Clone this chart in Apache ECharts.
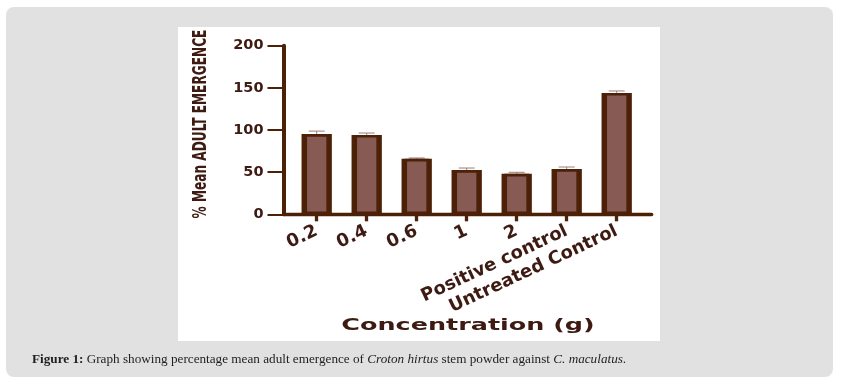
<!DOCTYPE html>
<html>
<head>
<meta charset="utf-8">
<script src="https://cdn.jsdelivr.net/npm/echarts@6/dist/echarts.min.js"></script>
<style>html,body{margin:0;padding:0;background:#fff;}#c{width:842px;height:386px;}</style>
</head>
<body>
<div id="c"></div>
<script>
// Data
const categories = ['0.2', '0.4', '0.6', '1', '2', 'Positive control', 'Untreated Control'];
const meanEmergence = [95.3, 94.2, 65.8, 52.6, 48.0, 53.8, 144.0];
const errorValues = [3.4, 2.2, 1.0, 2.3, 1.8, 2.3, 2.3];
const yTicks = { min: 0, max: 200, interval: 50 };
const yAxisTitle = '% Mean ADULT EMERGENCE';
const xAxisTitle = 'Concentration (g)';

const dark = '#4d2008';
const textDark = '#3d1a12';
const fill = '#875a54';

const chart = echarts.init(document.getElementById('c'), null, { renderer: 'canvas' });

const gridTop = 45.7, gridH = 168.6;

chart.setOption({
  backgroundColor: '#ffffff',
  animation: false,
  title: {
    left: 27, top: 348,
    text: '{b|Figure 1:} Graph showing percentage mean adult emergence of {i|Croton hirtus} stem powder against {i|C. maculatus}.',
    textStyle: {
      fontFamily: 'Liberation Serif', fontSize: 13.2, color: '#1e1e1e', fontWeight: 'normal',
      rich: {
        b: { fontFamily: 'Liberation Serif', fontSize: 13.2, fontWeight: 'bold', color: '#1e1e1e' },
        i: { fontFamily: 'Liberation Serif', fontSize: 13.2, fontStyle: 'italic', color: '#1e1e1e' }
      }
    }
  },
  graphic: [
    { type: 'rect', z: -20, shape: { x: 6, y: 7, width: 827, height: 370, r: 8 }, style: { fill: '#e1e1e1' } },
    { type: 'rect', z: -10, shape: { x: 178, y: 27, width: 482, height: 314 }, style: { fill: '#ffffff' } },
    { type: 'text', z: 50, x: 468, y: 326, scaleX: 1.59,
      style: { text: xAxisTitle, fontFamily: 'DejaVu Sans', fontWeight: 'bold', fontSize: 16,
               fill: textDark, align: 'center', verticalAlign: 'middle' } },
    { type: 'text', z: 50, x: 201, y: 124, rotation: Math.PI / 2, scaleY: 1.4,
      style: { text: yAxisTitle, fontFamily: 'DejaVu Sans Condensed', fontWeight: 'bold', fontSize: 13.5,
               fill: textDark, align: 'center', verticalAlign: 'middle' } }
  ],
  grid: [
    { left: 283.5, top: gridTop, width: 368.2, height: gridH },
    { left: 291.7, top: gridTop, width: 350, height: gridH }
  ],
  xAxis: [
    { gridIndex: 0, type: 'value', min: 0, max: 1,
      axisLine: { show: true, lineStyle: { color: dark, width: 3.3 } },
      axisTick: { show: false }, axisLabel: { show: false }, splitLine: { show: false } },
    { gridIndex: 1, type: 'category', data: categories,
      axisLine: { show: false },
      axisTick: { show: true, alignWithLabel: true, length: 7, lineStyle: { color: dark, width: 3.3 } },
      axisLabel: { interval: 0, rotate: 25, margin: 16, fontFamily: 'DejaVu Sans', fontWeight: 'bold',
                   fontSize: 18, color: textDark },
      splitLine: { show: false } },
    { gridIndex: 1, type: 'category', data: categories, show: false }
  ],
  yAxis: [
    { gridIndex: 0, type: 'value', min: yTicks.min, max: yTicks.max, interval: yTicks.interval,
      axisLine: { show: true, lineStyle: { color: dark, width: 4 } },
      axisTick: { show: true, length: 16, lineStyle: { color: dark, width: 2 } },
      axisLabel: { margin: 20, fontFamily: 'DejaVu Sans', fontWeight: 'bold', fontSize: 14.5, color: textDark },
      splitLine: { show: false } },
    { gridIndex: 1, type: 'value', min: yTicks.min, max: yTicks.max, interval: yTicks.interval, show: false }
  ],
  series: [
    { type: 'custom', xAxisIndex: 1, yAxisIndex: 1, z: 1,
      data: meanEmergence.map((v, i) => [i, v, errorValues[i]]),
      renderItem: function (params, api) {
        const base = api.coord([api.value(0), api.value(1)]);
        const top = api.coord([api.value(0), api.value(1) + api.value(2)]);
        const st = { stroke: '#9a7e76', lineWidth: 1 };
        return { type: 'group', children: [
          { type: 'line', shape: { x1: base[0], y1: base[1], x2: top[0], y2: top[1] }, style: st },
          { type: 'line', shape: { x1: top[0] - 8, y1: top[1], x2: top[0] + 8, y2: top[1] }, style: st }
        ] };
      } },
    { type: 'bar', xAxisIndex: 1, yAxisIndex: 1, z: 2, data: meanEmergence, barWidth: 30.3,
      itemStyle: { color: dark, borderColor: dark, borderWidth: 2.7 } },
    { type: 'bar', xAxisIndex: 2, yAxisIndex: 1, z: 3, data: meanEmergence, barWidth: 24.7,
      itemStyle: { color: fill, borderColor: dark, borderWidth: 2.7 } }
  ]
});
</script>
</body>
</html>
